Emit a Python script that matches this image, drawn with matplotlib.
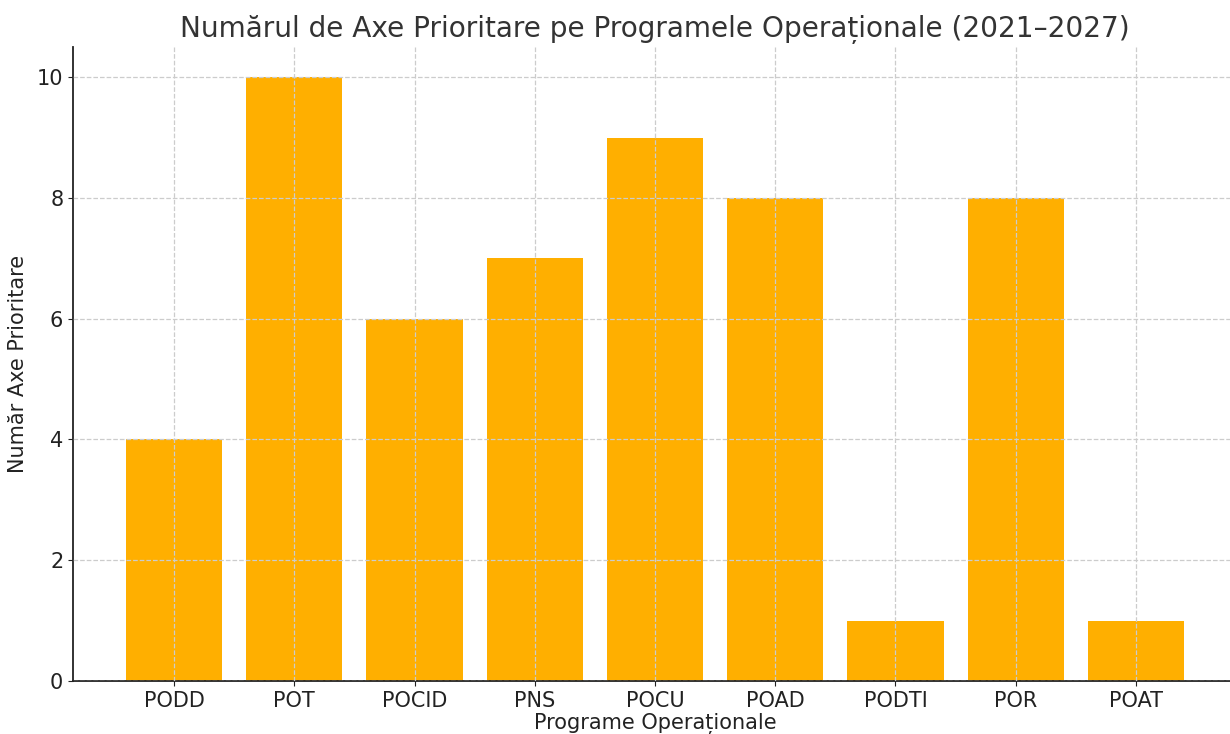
import matplotlib.pyplot as plt
import numpy as np

# Data
programe = ['PODD', 'POT', 'POCID', 'PNS', 'POCU', 'POAD', 'PODTI', 'POR', 'POAT']
axe = [4, 10, 6, 7, 9, 8, 1, 8, 1]

fig = plt.figure(figsize=(12.3, 7.34), dpi=100)
ax = fig.add_axes([73 / 1230, 1 - 681 / 734, (1237 - 73) / 1230, (681 - 47) / 734])

x = np.arange(len(programe))
ax.bar(x, axe, color='#FFAF00', width=0.8, zorder=2)

ax.set_xticks(x, programe)
ax.tick_params(labelsize=15, colors='#222222')
ax.set_ylim(0, 10.5)
ax.grid(True, linestyle='--', color='#cccccc', linewidth=0.9, zorder=3)
ax.set_axisbelow(False)

for s in ['top', 'right']:
    ax.spines[s].set_visible(False)
for s in ['left', 'bottom']:
    ax.spines[s].set_linewidth(1.3)
    ax.spines[s].set_color('#222222')

ax.set_xlabel('Programe Operaționale', fontsize=15, color='#222222', labelpad=2)
ax.set_ylabel('Număr Axe Prioritare', fontsize=15, color='#222222', labelpad=6)
ax.set_title('Numărul de Axe Prioritare pe Programele Operaționale (2021–2027)',
             fontsize=20.2, color='#333333', pad=7)

plt.savefig('out.png')
plt.close(fig)
